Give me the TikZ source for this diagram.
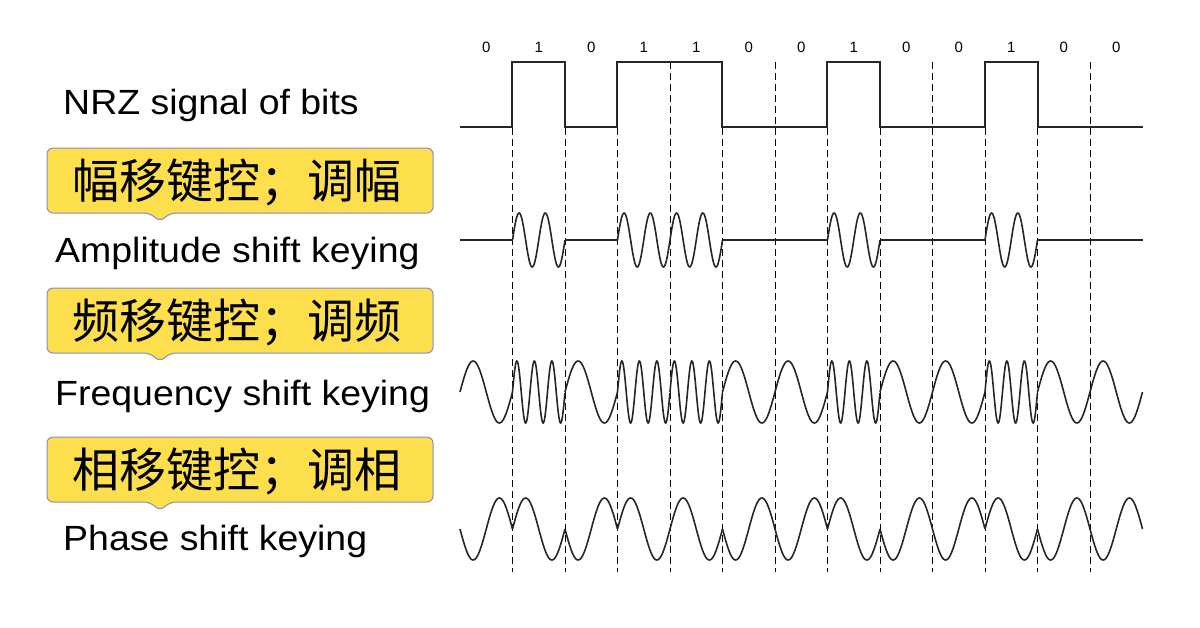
\documentclass[tikz,border=0pt]{standalone}
\usepackage{fontspec}
\setmainfont{Liberation Sans}
\newfontfamily\cjk{Noto Sans CJK SC}
\begin{document}
\begin{tikzpicture}[x=1pt,y=-1pt,
  lab/.style={anchor=west,font=\fontsize{35}{38}\selectfont,inner sep=0,xscale=1.07},
  bitlab/.style={font=\fontsize{15}{16}\selectfont,inner sep=0},
  wave/.style={line width=1.6pt,black!85},
  guide/.style={line width=0.9pt,dash pattern=on 7pt off 4pt},
  callout/.style={fill=yellow!70!orange!70, draw=blue!30!gray!70, line width=1pt, rounded corners=6pt}]
\useasboundingbox (0,0) rectangle (1200,627);
\def\xo{460}\def\w{52.5}
% labels
\node[lab] (nrz) at (63,105) {NRZ signal of bits};
\node[lab] (ask) at (55,253) {Amplitude shift keying};
\node[lab] (fsk) at (55,396) {Frequency shift keying};
\node[lab] (psk) at (63,541) {Phase shift keying};
% callouts
\foreach \yt/\txt/\nm in {148/幅移键控；调幅/c1, 288/频移键控；调频/c2, 437/相移键控；调相/c3}{
  \draw[callout] (47,\yt) -- (433,\yt) -- (433,\yt+65) -- (170,\yt+65) -- (160,\yt+74) -- (150,\yt+65) -- (47,\yt+65) -- cycle;
  \node[font=\cjk\fontsize{47}{50}\selectfont,inner sep=0] (\nm) at (237,\yt+34) {\txt};
}
% guides
\foreach \i in {1,...,12}{
  \draw[guide] (\xo+\i*\w,62) -- (\xo+\i*\w,572);
}
% bits
\foreach \b [count=\i from 0] in {0,1,0,1,1,0,0,1,0,0,1,0,0}{
  \pgfmathsetmacro\a{\xo+\i*\w}
  \pgfmathsetmacro\e{\a+\w}
  \node[bitlab] (b\i) at (\a+\w/2,47) {\b};
  \ifnum\b=1
    \draw[wave] plot[domain=0:1,samples=80] ({\a+\w*\x},{240-27*sin(720*\x)});
    \draw[wave] plot[domain=0:1,samples=100] ({\a+\w*\x},{392-31*sin(1080*\x)});
    \draw[wave] plot[domain=0:1,samples=50] ({\a+\w*\x},{529-31*sin(360*\x)});
  \else
    \draw[wave] (\a,240) -- (\e,240);
    \draw[wave] plot[domain=0:1,samples=50] ({\a+\w*\x},{392-31*sin(360*\x)});
    \draw[wave] plot[domain=0:1,samples=50] ({\a+\w*\x},{529+31*sin(360*\x)});
  \fi
}
% NRZ
\draw[wave] (460,127) -- (512,127) -- (512,62) -- (565,62) -- (565,127) -- (617,127) -- (617,62) -- (722,62) -- (722,127) -- (827,127) -- (827,62) -- (880,62) -- (880,127) -- (985,127) -- (985,62) -- (1038,62) -- (1038,127) -- (1143,127);
\end{tikzpicture}
\end{document}
